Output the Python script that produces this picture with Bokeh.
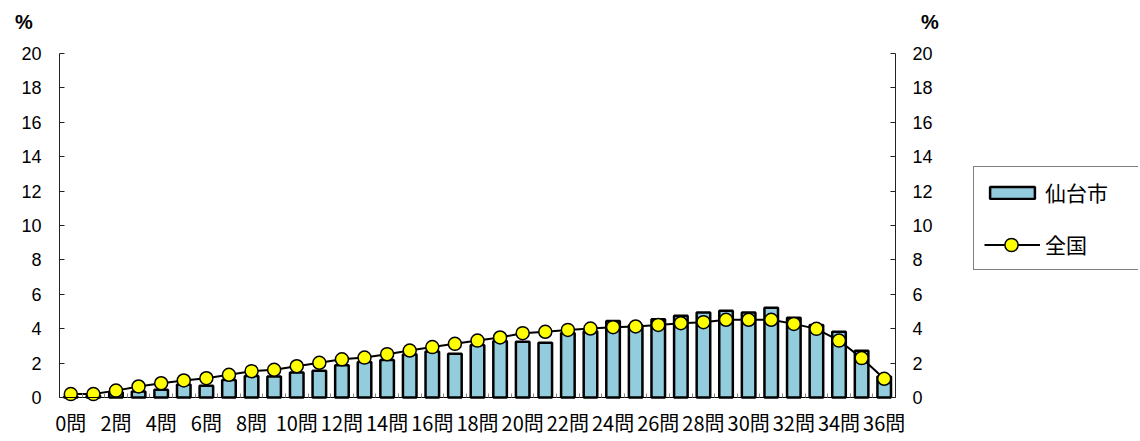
from bokeh.plotting import figure
from bokeh.models import (Range1d, LinearAxis, FixedTicker, Legend, LegendItem,
                          Label, ColumnDataSource)
from bokeh.embed import file_html
from bokeh.resources import INLINE

# ---- data ----
categories = list(range(37))
cat_labels = [f"{i}問" for i in categories]
sendai = [0.05, 0.1, 0.3, 0.35, 0.45, 0.75, 0.68, 1.02, 1.25, 1.22,
          1.45, 1.55, 1.87, 2.07, 2.18, 2.52, 2.67, 2.55, 3.05, 3.28,
          3.24, 3.18, 3.75, 3.85, 4.45, 4.2, 4.55, 4.75, 4.94, 5.05,
          4.94, 5.22, 4.64, 4.22, 3.82, 2.72, 1.22]
zenkoku = [0.2, 0.2, 0.4, 0.64, 0.83, 0.99, 1.12, 1.32, 1.53, 1.61,
           1.82, 2.02, 2.22, 2.32, 2.52, 2.73, 2.93, 3.12, 3.31, 3.49,
           3.74, 3.82, 3.93, 4.01, 4.09, 4.13, 4.22, 4.32, 4.38, 4.52,
           4.52, 4.52, 4.28, 3.99, 3.31, 2.29, 1.09]
y_ticks = list(range(0, 21, 2))
series_names = ["仙台市", "全国"]

JP = "Noto Sans CJK JP"

# ---- canvas geometry (pixels) ----
W, H = 1138, 439
AX_L, AX_R, AX_T, AX_B = 59, 895, 53, 397   # plot-area edges on the canvas
n = len(categories)
xpx = (AX_R - AX_L) / n
ypx = (AX_B - AX_T) / 20.0
x0 = -0.5 - AX_L / xpx
x1 = -0.5 + (W - AX_L) / xpx
y1 = 20 + AX_T / ypx
y0 = -(H - AX_B) / ypx

src = ColumnDataSource(dict(x=categories, sendai=sendai, zenkoku=zenkoku))

p = figure(width=W, height=H, output_backend="svg", toolbar_location=None,
           x_range=Range1d(x0, x1), y_range=Range1d(y0, y1),
           x_axis_location=None, y_axis_location=None,
           min_border=0, min_border_left=0, min_border_right=0,
           min_border_top=0, min_border_bottom=0)
p.xgrid.visible = False
p.ygrid.visible = False
p.outline_line_color = None
p.background_fill_color = "white"
p.border_fill_color = "white"

bars = p.vbar(x="x", top="sendai", width=0.6, source=src, fill_color="#93CDDD",
              line_color="black", line_width=2.5)
ln = p.line(x="x", y="zenkoku", source=src, line_color="black", line_width=2)
pts = p.scatter(x="x", y="zenkoku", source=src, size=13, fill_color="#FFFF00",
                line_color="black", line_width=1.5)

# x axis (fixed at y = 0)
xa = LinearAxis(fixed_location=0, bounds=(-0.5, n - 0.5))
xa.ticker = FixedTicker(ticks=categories[::2],
                        minor_ticks=[c - 0.5 for c in categories] + [categories[-1] + 0.5])
xa.major_label_overrides = {c: cat_labels[c] for c in categories[::2]}
xa.major_tick_in = 0
xa.major_tick_out = 0
xa.minor_tick_in = 4
xa.minor_tick_out = 0
xa.minor_tick_line_color = "#888888"
xa.axis_line_color = "black"
xa.axis_line_width = 1
xa.major_label_text_font = JP
xa.major_label_text_font_size = "20px"
xa.major_label_text_color = "black"
xa.major_label_standoff = 10
p.add_layout(xa, "below")

def y_axis(loc, standoff):
    a = LinearAxis(fixed_location=loc, bounds=(0, 20),
                   ticker=FixedTicker(ticks=y_ticks))
    a.major_tick_in = 5
    a.major_tick_out = 0
    a.minor_tick_line_color = None
    a.axis_line_color = "#222222"
    a.major_tick_line_color = "#222222"
    a.major_label_text_font = "Liberation Sans"
    a.major_label_text_font_size = "18px"
    a.major_label_text_color = "black"
    a.major_label_standoff = standoff
    return a

p.add_layout(y_axis(-0.5, 18), "left")
p.add_layout(y_axis(n - 0.5, 17), "right")

# % unit labels
for px in (23.5, 929.5):
    p.add_layout(Label(x=x0 + px / xpx, y=y1 - 21 / ypx, text="%",
                       text_align="center", text_baseline="middle",
                       text_font="Liberation Sans", text_font_style="bold",
                       text_font_size="20px", text_color="black"))

# legend: box with both entries
LG_L, LG_B, LG_PAD = 973, 270, 10
legend = Legend(items=[LegendItem(label=series_names[0], renderers=[bars]),
                       LegendItem(label=series_names[1], renderers=[ln])],
                location=(LG_L, H - LG_B), orientation="vertical",
                border_line_color="black", border_line_width=1,
                background_fill_color="white", background_fill_alpha=1,
                padding=LG_PAD, spacing=22, margin=0,
                glyph_width=56, glyph_height=15, label_standoff=5,
                label_width=83,
                label_text_font=JP, label_text_font_size="21px",
                label_text_color="black")
p.add_layout(legend)

# overlay legend that draws the marker of 全国 at full size on top of its line
marker_legend = Legend(items=[LegendItem(label=" ", renderers=[pts])],
                       location=(LG_L + LG_PAD, H - 261), orientation="vertical",
                       border_line_color=None, background_fill_alpha=0,
                       padding=0, spacing=0, margin=0,
                       glyph_width=56, glyph_height=33, label_standoff=0,
                       label_width=0, label_text_font_size="1px",
                       label_text_alpha=0)
p.add_layout(marker_legend)

open("out.html", "w").write(file_html(p, INLINE))
